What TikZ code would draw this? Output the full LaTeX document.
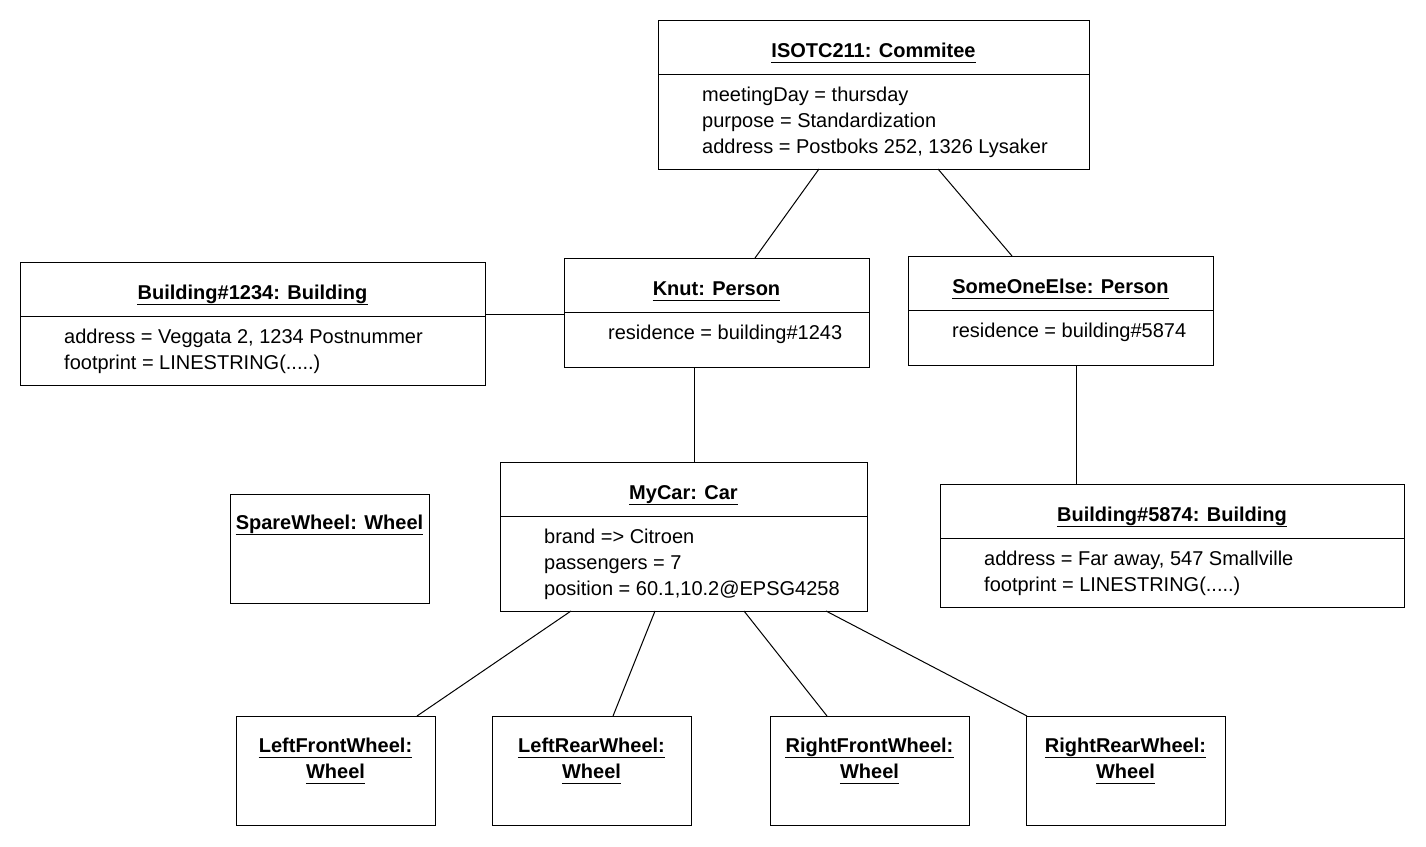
\documentclass[tikz,border=0pt]{standalone}
\usepackage{fontspec}
\setmainfont{Liberation Sans}
\begin{document}
\begin{tikzpicture}[x=1pt,y=-1pt,
  obj/.style={draw, line width=1pt, inner sep=0pt, outer sep=0pt, anchor=north west, fill=white},
  ttl/.style={font=\fontsize{20}{26}\selectfont\bfseries, inner sep=0pt, anchor=base},
  attr/.style={font=\fontsize{20}{26}\selectfont, inner sep=0pt, anchor=base west},
  rule/.style={line width=1pt},
  link/.style={line width=1pt}]
\path[use as bounding box, fill=white] (0,0) rectangle (1426,846);

% underlined object title: name, position, text
\newcommand\umltitle[3]{%
  \node[ttl] (#1) at (#2) {#3};
  \draw[rule] ([yshift=-5.5pt]#1.base west) -- ([yshift=-5.5pt]#1.base east);}
% compartment divider under the title
\newcommand\umldivider[1]{%
  \draw[rule] ([yshift=-54pt]#1.north west) -- ([yshift=-54pt]#1.north east);}

% ---- committee
\node[obj, minimum width=431pt, minimum height=149pt] (com) at (658,20) {};
\umldivider{com}
\umltitle{comT}{[yshift=-37pt]com.north}{ISOTC211: Commitee}
\node[attr] (comA1) at ([xshift=44pt,yshift=-81pt]com.north west) {meetingDay = thursday};
\node[attr] (comA2) at ([xshift=44pt,yshift=-107pt]com.north west) {purpose = Standardization};
\node[attr] (comA3) at ([xshift=44pt,yshift=-133pt]com.north west) {address = Postboks 252, 1326 Lysaker};

% ---- building 1234
\node[obj, minimum width=465pt, minimum height=123pt] (bA) at (20,262) {};
\umldivider{bA}
\umltitle{bAT}{[yshift=-37pt]bA.north}{Building\#1234: Building}
\node[attr] (bA1) at ([xshift=44pt,yshift=-81pt]bA.north west) {address = Veggata 2, 1234 Postnummer};
\node[attr] (bA2) at ([xshift=44pt,yshift=-107pt]bA.north west) {footprint = LINESTRING(.....)};

% ---- Knut
\node[obj, minimum width=305pt, minimum height=109pt] (knut) at (564,258) {};
\umldivider{knut}
\umltitle{knutT}{[yshift=-37pt]knut.north}{Knut: Person}
\node[attr] (knut1) at ([xshift=44pt,yshift=-81pt]knut.north west) {residence = building\#1243};

% ---- SomeOneElse
\node[obj, minimum width=305pt, minimum height=109pt] (some) at (908,256) {};
\umldivider{some}
\umltitle{someT}{[yshift=-37pt]some.north}{SomeOneElse: Person}
\node[attr] (some1) at ([xshift=44pt,yshift=-81pt]some.north west) {residence = building\#5874};

% ---- car
\node[obj, minimum width=367pt, minimum height=149pt] (car) at (500,462) {};
\umldivider{car}
\umltitle{carT}{[yshift=-37pt]car.north}{MyCar: Car}
\node[attr] (car1) at ([xshift=44pt,yshift=-81pt]car.north west) {brand => Citroen};
\node[attr] (car2) at ([xshift=44pt,yshift=-107pt]car.north west) {passengers = 7};
\node[attr] (car3) at ([xshift=44pt,yshift=-133pt]car.north west) {position = 60.1,10.2@EPSG4258};

% ---- building 5874
\node[obj, minimum width=464pt, minimum height=123pt] (bB) at (940,484) {};
\umldivider{bB}
\umltitle{bBT}{[yshift=-37pt]bB.north}{Building\#5874: Building}
\node[attr] (bB1) at ([xshift=44pt,yshift=-81pt]bB.north west) {address = Far away, 547 Smallville};
\node[attr] (bB2) at ([xshift=44pt,yshift=-107pt]bB.north west) {footprint = LINESTRING(.....)};

% ---- wheels
\node[obj, minimum width=199pt, minimum height=109pt] (spare) at (230,494) {};
\umltitle{spareT}{[yshift=-35pt]spare.north}{SpareWheel: Wheel}

\node[obj, minimum width=199pt, minimum height=109pt] (lfw) at (236,716) {};
\umltitle{lfwT}{[yshift=-36pt]lfw.north}{LeftFrontWheel:~}
\umltitle{lfwU}{[yshift=-62pt]lfw.north}{Wheel}

\node[obj, minimum width=199pt, minimum height=109pt] (lrw) at (492,716) {};
\umltitle{lrwT}{[yshift=-36pt]lrw.north}{LeftRearWheel:~}
\umltitle{lrwU}{[yshift=-62pt]lrw.north}{Wheel}

\node[obj, minimum width=199pt, minimum height=109pt] (rfw) at (770,716) {};
\umltitle{rfwT}{[yshift=-36pt]rfw.north}{RightFrontWheel:~}
\umltitle{rfwU}{[yshift=-62pt]rfw.north}{Wheel}

\node[obj, minimum width=199pt, minimum height=109pt] (rrw) at (1026,716) {};
\umltitle{rrwT}{[yshift=-36pt]rrw.north}{RightRearWheel:~}
\umltitle{rrwU}{[yshift=-62pt]rrw.north}{Wheel}

% ---- links
\draw[link] ([xshift=161pt]com.south west) -- ([xshift=191pt]knut.north west);
\draw[link] ([xshift=280pt]com.south west) -- ([xshift=104pt]some.north west);
\draw[link] ([yshift=-52pt]bA.north east) -- ([yshift=-56pt]knut.north west);
\draw[link] ([xshift=130pt]knut.south west) -- ([xshift=194pt]car.north west);
\draw[link] ([xshift=168pt]some.south west) -- ([xshift=136pt]bB.north west);
\draw[link] ([xshift=71pt]car.south west) -- ([xshift=181pt]lfw.north west);
\draw[link] ([xshift=155pt]car.south west) -- ([xshift=121pt]lrw.north west);
\draw[link] ([xshift=244pt]car.south west) -- ([xshift=57pt]rfw.north west);
\draw[link] ([xshift=326pt]car.south west) -- ([xshift=1pt]rrw.north west);
\end{tikzpicture}
\end{document}
